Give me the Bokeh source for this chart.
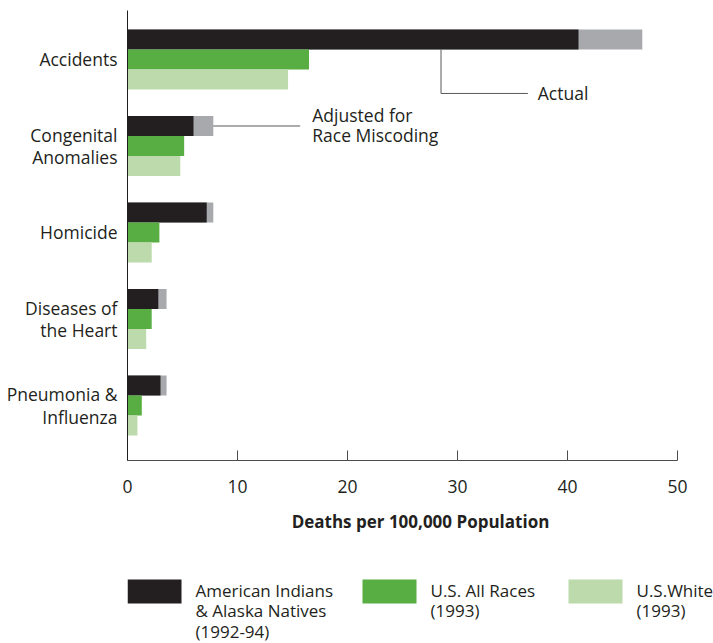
from bokeh.plotting import figure
from bokeh.models import Range1d, FixedTicker, Label
from bokeh.layouts import column
from bokeh.embed import file_html
from bokeh.resources import INLINE
from bokeh.core.properties import value

# ---------------- data ----------------
categories = ["Accidents", "Congenital\nAnomalies", "Homicide",
              "Diseases of\nthe Heart", "Pneumonia &\nInfluenza"]
ai_actual = [41.0, 6.0, 7.2, 2.8, 3.0]          # American Indians & Alaska Natives (actual)
ai_adjusted = [46.8, 7.8, 7.8, 3.55, 3.55]      # adjusted for race miscoding
us_all = [16.5, 5.15, 2.9, 2.2, 1.3]            # U.S. All Races (1993)
us_white = [14.6, 4.8, 2.2, 1.7, 0.9]           # U.S. White (1993)
x_ticks = [0, 10, 20, 30, 40, 50]
x_title = "Deaths per 100,000 Population"
legend_labels = ["American Indians\n& Alaska Natives\n(1992-94)",
                 "U.S. All Races\n(1993)", "U.S.White\n(1993)"]
note_actual = "Actual"
note_adjusted = "Adjusted for\nRace Miscoding"

# ---------------- styles ----------------
FONT = "Open Sans"
TXT = "#231f20"
C_AI = "#231f20"
C_ADJ = "#a7a9ac"
C_ALL = "#58ae42"
C_WHITE = "#bcdaab"
C_LEAD = "#58595b"
FS = "17.5px"

W = 713
LEFT = 127
PX_PER_UNIT = 11.0
x_max_axis = x_ticks[-1]
x_end = x_max_axis + (W - LEFT - x_max_axis * PX_PER_UNIT) / PX_PER_UNIT

n = len(categories)
pos = [n - 1 - i for i in range(n)]
bh = 0.231

p = figure(width=W, height=550, output_backend="svg", toolbar_location=None,
           x_range=Range1d(0, x_end), y_range=Range1d(-0.636, 4.566),
           min_border_left=LEFT, min_border_right=0, min_border_top=10,
           min_border_bottom=90)
p.outline_line_color = None
p.grid.visible = False
p.background_fill_color = "white"

# bars
p.hbar(y=[v + bh for v in pos], left=0, right=ai_adjusted, height=bh,
       color=C_ADJ, line_color=None)
p.hbar(y=[v + bh for v in pos], left=0, right=ai_actual, height=bh,
       color=C_AI, line_color=None)
p.hbar(y=pos, left=0, right=us_all, height=bh, color=C_ALL, line_color=None)
p.hbar(y=[v - bh for v in pos], left=0, right=us_white, height=bh,
       color=C_WHITE, line_color=None)

# annotations
i0 = 0
y_act = pos[i0] - 0.393
p.line(x=[28.5, 28.5, 36.4], y=[pos[i0] + bh / 2, y_act, y_act],
       line_color=C_LEAD, line_width=1)
p.text(x=[37.3], y=[y_act], text=[note_actual], text_font=value(FONT),
       text_font_size=FS, text_color=TXT, text_baseline="middle", text_align="left")
i1 = 1
p.line(x=[ai_adjusted[i1], 15.7], y=[pos[i1] + bh] * 2, line_color=C_LEAD, line_width=1)
p.text(x=[16.8], y=[pos[i1] + bh + 0.01], text=[note_adjusted], text_font=value(FONT),
       text_font_size=FS, text_color=TXT, text_baseline="middle", text_align="left",
       text_line_height=0.84)

# axes
xa = p.xaxis[0]
xa.ticker = FixedTicker(ticks=x_ticks)
xa.bounds = (x_ticks[0], x_ticks[-1])
xa.major_tick_in = 10
xa.major_tick_out = 0
xa.minor_tick_line_color = None
xa.axis_line_color = "#4d4d4f"
xa.major_tick_line_color = "#4d4d4f"
xa.major_label_text_font = FONT
xa.major_label_text_font_size = FS
xa.major_label_text_color = TXT
xa.major_label_standoff = 19
xa.axis_label = x_title
xa.axis_label_text_font = FONT
xa.axis_label_text_font_style = "bold"
xa.axis_label_text_font_size = "17px"
xa.axis_label_text_color = TXT
xa.axis_label_standoff = 14

ya = p.yaxis[0]
ya.ticker = FixedTicker(ticks=pos)
ya.major_label_overrides = {pos[i]: categories[i] for i in range(n)}
ya.major_tick_in = 0
ya.major_tick_out = 0
ya.minor_tick_in = 0
ya.minor_tick_out = 0
ya.major_tick_line_color = None
ya.minor_tick_line_color = None
ya.axis_line_color = TXT
ya.major_label_text_font = FONT
ya.major_label_text_font_size = FS
ya.major_label_text_color = TXT
ya.major_label_text_line_height = 0.95
ya.major_label_standoff = 10

# ---------------- legend ----------------
lg = figure(width=W, height=93, output_backend="svg", toolbar_location=None,
            x_range=Range1d(LEFT, W), y_range=Range1d(93, 0),
            min_border_left=LEFT, min_border_right=0,
            min_border_top=0, min_border_bottom=0)
lg.outline_line_color = None
lg.axis.visible = False
lg.grid.visible = False
sw_left = [127, 362, 568]
sw_w = 54
lg.quad(left=sw_left, right=[v + sw_w for v in sw_left], top=[29] * 3, bottom=[53] * 3,
        color=[C_AI, C_ALL, C_WHITE], line_color=None)
for xl, lab in zip(sw_left, legend_labels):
    lg.add_layout(Label(x=xl + sw_w + 14, y=28, text=lab, text_font=FONT,
                        text_font_size="17px", text_color=TXT, text_baseline="top",
                        text_align="left", text_line_height=0.9))

layout = column(p, lg, spacing=0)
open("out.html", "w").write(file_html(layout, INLINE))
